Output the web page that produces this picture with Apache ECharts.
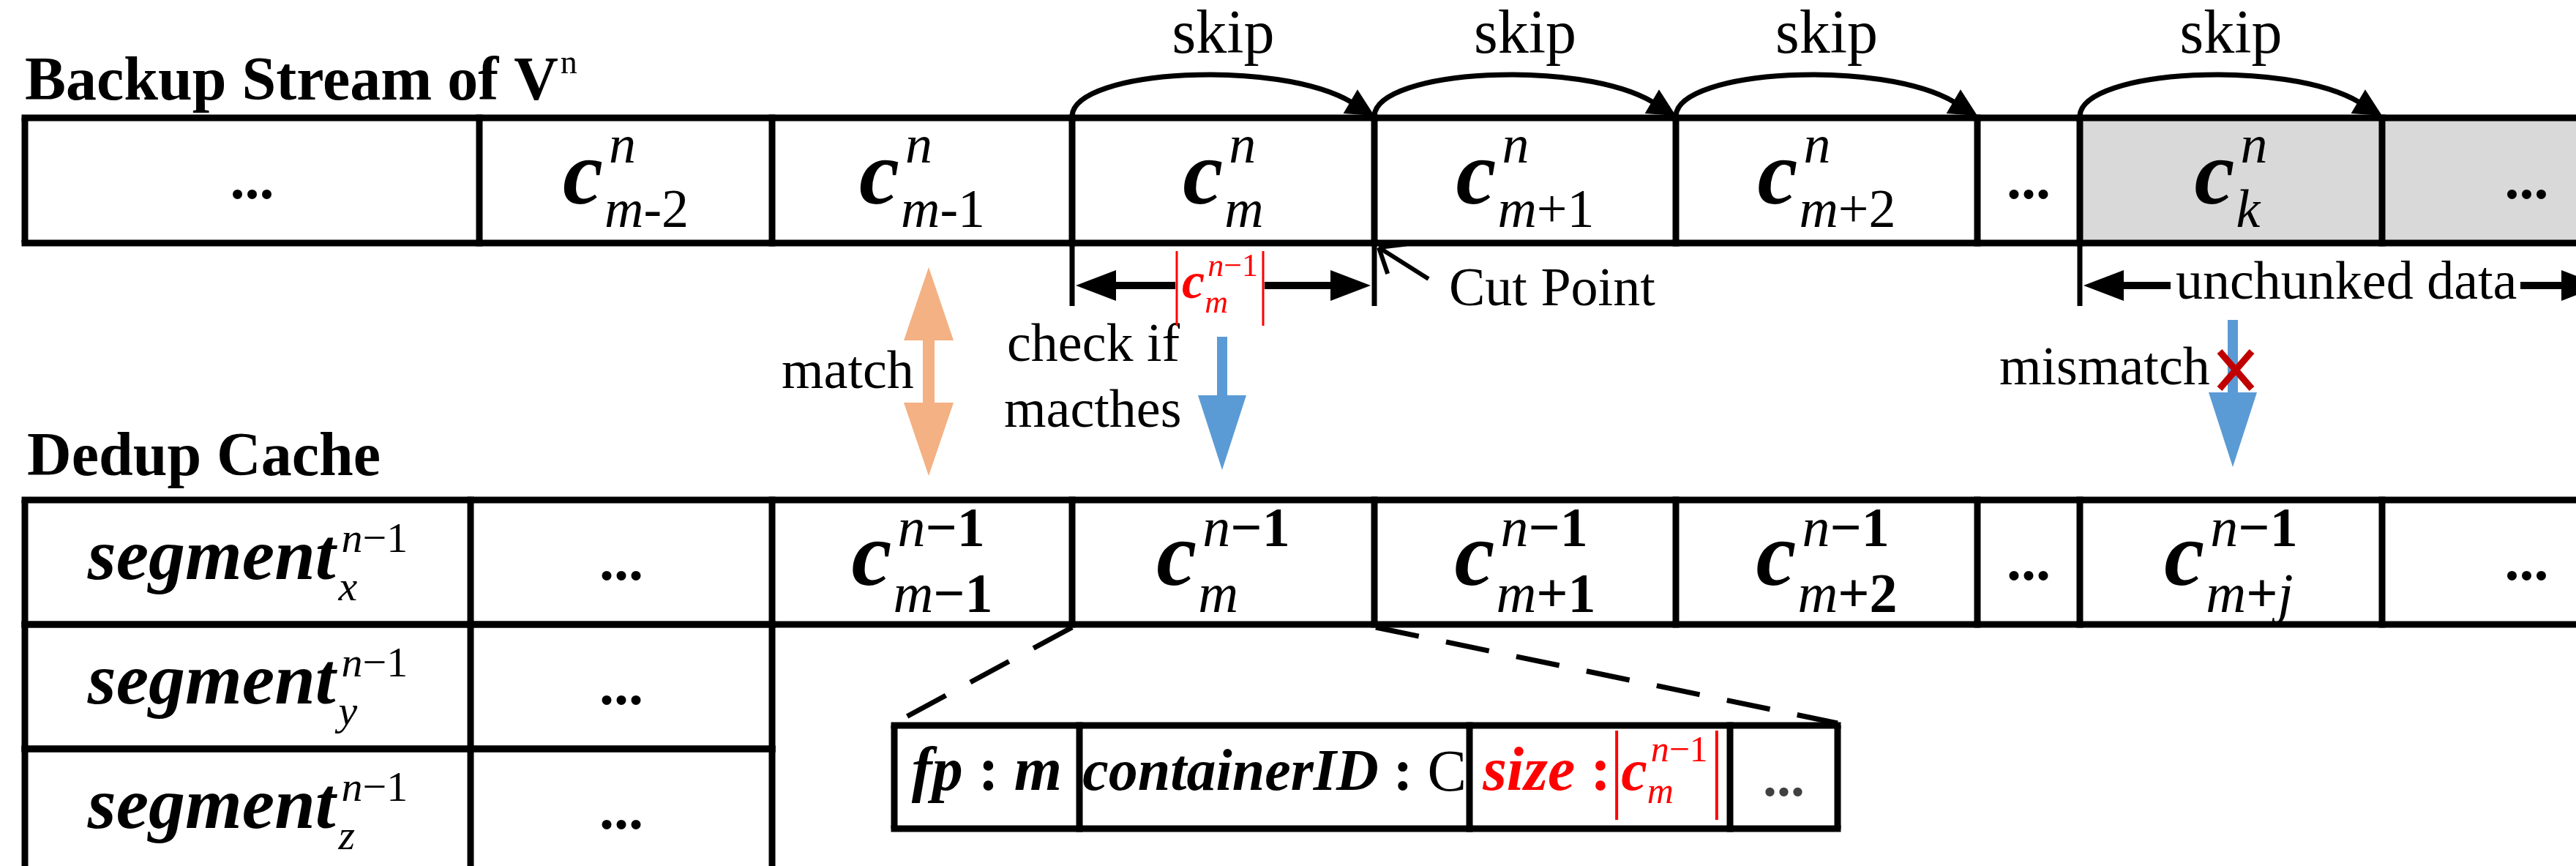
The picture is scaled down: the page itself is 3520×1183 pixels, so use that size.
<!DOCTYPE html>
<html>
<head>
<meta charset="utf-8">
<script src="https://cdn.jsdelivr.net/npm/echarts@6/dist/echarts.min.js"></script>
</head>
<body style="margin: 0">
<div id="container" style="width: 3520px; height: 1183px"></div>
<script type="text/javascript">
var W = 3520, H = 1183;

// ---- labels ----
var streamTitle = 'Backup Stream of V';
var streamTitleSup = 'n';
var cacheTitle = 'Dedup Cache';

var streamBase = ['...', 'c', 'c', 'c', 'c', 'c', '...', 'c', '...'];
var streamSup = ['', 'n', 'n', 'n', 'n', 'n', '', 'n', ''];
var streamSub = ['', 'm-2', 'm-1', 'm', 'm+1', 'm+2', '', 'k', ''];
var streamShaded = [0, 0, 0, 0, 0, 0, 0, 1, 1];

var cacheBase = ['segment', '...', 'c', 'c', 'c', 'c', '...', 'c', '...'];
var cacheSup = ['n−1', '', 'n−1', 'n−1', 'n−1', 'n−1', '', 'n−1', ''];
var cacheSub = ['x', '', 'm−1', 'm', 'm+1', 'm+2', '', 'm+j', ''];
var moreSegments = ['y', 'z'];

var skipLabel = 'skip';
var skipStarts = [3, 4, 5, 7]; // column edge where each skip begins

var entryKeys = ['fp', 'containerID', 'size', null];
var entryVals = ['m', 'C', null, '...'];

var noteTexts = ['Cut Point', 'unchunked data', 'match', 'check if', 'macthes', 'mismatch'];

// ---- layout (units of the hidden axes) ----
var streamEdges = [34, 655, 1055, 1465, 1878, 2290, 2702, 2842, 3255, 3650];
var cacheEdges = [34, 643, 1055, 1465, 1878, 2290, 2702, 2842, 3255, 3650];
var streamRow = [161, 332];
var cacheRows = [683, 853, 1023, 1193];
var entryEdges = [1222, 1475, 2008, 2364, 2511];
var entryRow = [991, 1132];
var noteAnchors = [[1980, 422], [2973, 413], [1068, 535], [1376, 498], [1372, 588], [2732, 530]];
var dimSpans = [[1465, 1878, 1606, 1728], [2842, 3560, 2966, 3444]];
var zoomGuides = [[1465, 857, 1222, 988], [1880, 857, 2511, 988]];
var matchArrow = [1269, 365, 650];
var probeArrows = [[1670, 460, 642], [3051, 437, 638]];

var SERIF = '"Liberation Serif", "Times New Roman", serif';
var BL = 0.33;
var LW = 9;
var RED = '#ff0000';
var SHADE = '#d9d9d9';

var headFont = {size: 84, weight: 'bold'};
var noteFont = {size: 74};
var dotFont = {size: 80, weight: 'bold'};

var chunkStyle = {
	base: {size: 124, style: 'italic', weight: 'bold'},
	sup: {size: 74}, sub: {size: 74},
	supGap: 8, subGap: 2, supRise: 60, subDrop: 28, drop: 40
};
var cachedStyle = {
	base: {size: 124, style: 'italic', weight: 'bold'},
	sup: {size: 76, digitWeight: 'bold'}, sub: {size: 76, digitWeight: 'bold'},
	supGap: 8, subGap: 2, supRise: 57, subDrop: 33, drop: 40
};
var segStyle = {
	base: {size: 100, style: 'italic', weight: 'bold'},
	sup: {size: 58}, sub: {size: 58},
	supGap: 8, subGap: 4, supRise: 40, subDrop: 26, drop: 30
};
var redSmall = {
	base: {size: 70, style: 'italic', weight: 'bold', color: RED},
	sup: {size: 44, color: RED}, sub: {size: 44, color: RED},
	supGap: 4, subGap: 0, supRise: 32, subDrop: 18
};
var redField = {
	base: {size: 80, style: 'italic', weight: 'bold', color: RED},
	sup: {size: 50, color: RED}, sub: {size: 50, color: RED},
	supGap: 5, subGap: 0, supRise: 42, subDrop: 15
};

// ---- helpers ----
var measureCtx = document.createElement('canvas').getContext('2d');
function fontCss(f) {
	return (f.style || 'normal') + ' ' + (f.weight || 'normal') + ' ' + f.size + 'px ' + SERIF;
}
function textWidth(s, f) {
	measureCtx.font = fontCss(f);
	return measureCtx.measureText(s).width;
}
function textEl(api, x, baseline, s, f, align) {
	var p = api.coord([x, baseline]);
	return {
		type: 'text',
		style: {
			x: p[0], y: p[1] - BL * f.size, text: s,
			fontFamily: SERIF, fontSize: f.size,
			fontStyle: f.style || 'normal', fontWeight: f.weight || 'normal',
			fill: f.color || '#000', align: align || 'left', verticalAlign: 'middle'
		}
	};
}
function scriptRun(s, f) {
	var out = [];
	for (var ch of s) {
		var it = /[a-z]/i.test(ch);
		var last = out[out.length - 1];
		if (last && last.it === it) last.s += ch;
		else out.push({s: ch, it: it});
	}
	return out.map(function (t) {
		return {s: t.s, f: {size: f.size, color: f.color, style: t.it ? 'italic' : 'normal',
			weight: t.it ? (f.weight || 'normal') : (f.digitWeight || 'normal')}};
	});
}
function runWidth(run) {
	return run.reduce(function (w, t) { return w + textWidth(t.s, t.f); }, 0);
}
function runEls(api, x, baseline, run) {
	var els = [];
	run.forEach(function (t) {
		els.push(textEl(api, x, baseline, t.s, t.f));
		x += textWidth(t.s, t.f);
	});
	return els;
}
function formulaWidth(base, sup, sub, st) {
	return textWidth(base, st.base) + Math.max(st.supGap + runWidth(scriptRun(sup, st.sup)),
		st.subGap + runWidth(scriptRun(sub, st.sub)));
}
function formulaEls(api, x, baseline, base, sup, sub, st) {
	var bw = textWidth(base, st.base);
	return [textEl(api, x, baseline, base, st.base)]
		.concat(runEls(api, x + bw + st.supGap, baseline - st.supRise, scriptRun(sup, st.sup)))
		.concat(runEls(api, x + bw + st.subGap, baseline + st.subDrop, scriptRun(sub, st.sub)));
}
function line(api, x0, y0, x1, y1, st) {
	var a = api.coord([x0, y0]), b = api.coord([x1, y1]);
	return {type: 'line', shape: {x1: a[0], y1: a[1], x2: b[0], y2: b[1]},
		style: Object.assign({stroke: '#000', lineWidth: LW}, st || {})};
}
function box(api, x0, y0, x1, y1, fill) {
	var a = api.coord([x0, y0]), b = api.coord([x1, y1]);
	return {type: 'rect', shape: {x: a[0], y: a[1], width: b[0] - a[0], height: b[1] - a[1]}, style: {fill: fill}};
}
function poly(api, pts, fill) {
	return {type: 'polygon', shape: {points: pts.map(function (p) { return api.coord(p); })}, style: {fill: fill}};
}
function cellFrame(api, x0, x1, y0, y1, shaded, closeRight) {
	var h = LW / 2, els = [];
	if (shaded) els.push(box(api, x0, y0, x1, y1, SHADE));
	els.push(line(api, x0 - h, y0, x1 + h, y0));
	els.push(line(api, x0 - h, y1, x1 + h, y1));
	els.push(line(api, x0, y0, x0, y1));
	if (closeRight) els.push(line(api, x1, y0, x1, y1));
	return els;
}
function cellLabel(api, x0, x1, yc, base, sup, sub, st) {
	var cx = (x0 + x1) / 2;
	if (base === '...') return [textEl(api, cx, yc + 30, '...', dotFont, 'center')];
	var w = formulaWidth(base, sup, sub, st);
	return formulaEls(api, cx - w / 2, yc + st.drop, base, sup, sub, st);
}

// ---- render functions ----
function renderStream(params, api) {
	var i = params.dataIndex;
	var x0 = api.value(0), x1 = api.value(1), y0 = api.value(2), y1 = api.value(3);
	var els = cellFrame(api, x0, x1, y0, y1, streamShaded[i], false);
	els = els.concat(cellLabel(api, x0, x1, (y0 + y1) / 2, streamBase[i], streamSup[i], streamSub[i], chunkStyle));
	return {type: 'group', children: els};
}
function renderCache(params, api) {
	var i = params.dataIndex;
	var x0 = api.value(0), x1 = api.value(1), y0 = api.value(2), y1 = api.value(3);
	var els = cellFrame(api, x0, x1, y0, y1, false, false);
	els = els.concat(cellLabel(api, x0, x1, (y0 + y1) / 2, cacheBase[i], cacheSup[i], cacheSub[i],
		i === 0 ? segStyle : cachedStyle));
	return {type: 'group', children: els};
}
function renderSegments(params, api) {
	var k = params.dataIndex;
	var x0 = api.value(0), x1 = api.value(1), x2 = api.value(2), y0 = api.value(3), y1 = api.value(4);
	var yc = (y0 + y1) / 2;
	var els = cellFrame(api, x0, x1, y0, y1, false, false)
		.concat(cellFrame(api, x1, x2, y0, y1, false, true))
		.concat(cellLabel(api, x0, x1, yc, 'segment', 'n−1', moreSegments[k], segStyle))
		.concat(cellLabel(api, x1, x2, yc, '...', '', '', segStyle));
	return {type: 'group', children: els};
}
function renderSkip(params, api) {
	var a = api.value(0), b = api.value(1), w = b - a;
	var y0 = streamRow[0] - 3;
	var c1 = [a + 0.01 * w, 95], c2 = [a + 0.68 * w, 80];
	var ang = Math.atan2(y0 - c2[1], b - c2[0]);
	var L = 38, hw = 19;
	var bx = b - L * Math.cos(ang), by = y0 - L * Math.sin(ang);
	var nx = -Math.sin(ang) * hw, ny = Math.cos(ang) * hw;
	var p0 = api.coord([a, y0]), q1 = api.coord(c1), q2 = api.coord(c2), p3 = api.coord([bx + 2 * Math.cos(ang), by + 2 * Math.sin(ang)]);
	return {type: 'group', children: [
		{type: 'bezierCurve', shape: {x1: p0[0], y1: p0[1], cpx1: q1[0], cpy1: q1[1], cpx2: q2[0], cpy2: q2[1], x2: p3[0], y2: p3[1]},
			style: {stroke: '#000', lineWidth: 7, fill: null}},
		poly(api, [[b, y0], [bx + nx, by + ny], [bx - nx, by - ny]], '#000'),
		textEl(api, a + w / 2, 78, skipLabel, {size: 84}, 'center')
	]};
}
function renderEntry(params, api) {
	var i = params.dataIndex;
	var x0 = api.value(0), x1 = api.value(1), y0 = api.value(2), y1 = api.value(3);
	var cx = (x0 + x1) / 2, base = 1085;
	var els = cellFrame(api, x0, x1, y0, y1, false, i === entryKeys.length - 1);
	var key = entryKeys[i], val = entryVals[i];
	if (key && val) {
		var sz = key.length > 4 ? 80 : 84;
		var run = [
			{s: key, f: {size: sz, style: 'italic', weight: 'bold'}},
			{s: ' : ', f: {size: sz, weight: 'bold'}},
			{s: val, f: /^[A-Z]$/.test(val) ? {size: sz} : {size: sz, style: 'italic', weight: 'bold'}}
		];
		els = els.concat(runEls(api, cx - runWidth(run) / 2, base, run));
	} else if (key) {
		var pre = [
			{s: key, f: {size: 84, style: 'italic', weight: 'bold', color: RED}},
			{s: ' :', f: {size: 84, weight: 'bold', color: RED}}
		];
		var pw = runWidth(pre), fw = formulaWidth('c', 'n−1', 'm', redField);
		var total = pw + 8 + 6 + fw + 12;
		var x = cx - total / 2;
		els = els.concat(runEls(api, x, base, pre));
		var bar1 = x + pw + 8, bar2 = bar1 + 6 + fw + 12;
		els.push(line(api, bar1, 998, bar1, 1120, {stroke: RED, lineWidth: 4}));
		els.push(line(api, bar2, 998, bar2, 1120, {stroke: RED, lineWidth: 4}));
		els = els.concat(formulaEls(api, bar1 + 6, base, 'c', 'n−1', 'm', redField));
	} else {
		els.push(textEl(api, cx, (y0 + y1) / 2 + 31, val, {size: 76, weight: 'bold', color: '#404040'}, 'center'));
	}
	return {type: 'group', children: els};
}
function renderNotes(params, api) {
	var els = [];
	// headings
	els.push(textEl(api, 34, 142, streamTitle, headFont));
	els.push(textEl(api, 34 + textWidth(streamTitle, headFont) + 3, 103, streamTitleSup, {size: 46}));
	els.push(textEl(api, 37, 655, cacheTitle, headFont));
	// free text
	noteTexts.forEach(function (t, k) {
		els.push(textEl(api, noteAnchors[k][0], noteAnchors[k][1], t, noteFont));
	});
	// dimension markers
	var dy = 390;
	dimSpans.forEach(function (d) {
		els.push(line(api, d[0], streamRow[1], d[0], 418, {lineWidth: 7}));
		els.push(line(api, d[1], streamRow[1], d[1], 418, {lineWidth: 7}));
		els.push(poly(api, [[d[0] + 5, dy], [d[0] + 60, dy - 21], [d[0] + 60, dy + 21]], '#000'));
		els.push(poly(api, [[d[1] - 5, dy], [d[1] - 60, dy - 21], [d[1] - 60, dy + 21]], '#000'));
		els.push(line(api, d[0] + 58, dy, d[2], dy, {lineWidth: 10}));
		els.push(line(api, d[3], dy, d[1] - 58, dy, {lineWidth: 10}));
	});
	// red chunk size |c|
	var g = dimSpans[0];
	els.push(line(api, g[2] + 2, 343, g[2] + 2, 445, {stroke: RED, lineWidth: 3}));
	els.push(line(api, g[3] - 2, 343, g[3] - 2, 445, {stroke: RED, lineWidth: 3}));
	var fw = formulaWidth('c', 'n−1', 'm', redSmall);
	els = els.concat(formulaEls(api, (g[2] + g[3]) / 2 - fw / 2, 412, 'c', 'n−1', 'm', redSmall));
	// cut point pointer
	var tail = [1952, 381], tip = [1884, 338];
	els.push(line(api, tail[0], tail[1], tip[0], tip[1], {lineWidth: 6}));
	var ang = Math.atan2(tail[1] - tip[1], tail[0] - tip[0]);
	[-0.68, 0.68].forEach(function (da) {
		els.push(line(api, tip[0], tip[1], tip[0] + 38 * Math.cos(ang + da), tip[1] + 38 * Math.sin(ang + da), {lineWidth: 6}));
	});
	// zoom guides
	zoomGuides.forEach(function (z) {
		els.push(line(api, z[0], z[1], z[2], z[3], {lineWidth: 7, lineDash: [60, 38]}));
	});
	// match double arrow
	var mx = matchArrow[0], mt = matchArrow[1], mb = matchArrow[2], hh = 34, hs = 8, hl = 100;
	els.push(poly(api, [[mx, mt], [mx + hh, mt + hl], [mx + hs, mt + hl], [mx + hs, mb - hl], [mx + hh, mb - hl],
		[mx, mb], [mx - hh, mb - hl], [mx - hs, mb - hl], [mx - hs, mt + hl], [mx - hh, mt + hl]], '#f4b183'));
	// probe arrows
	probeArrows.forEach(function (p) {
		var x = p[0], top = p[1], t = p[2], bs = t - 102;
		els.push(poly(api, [[x - 7, top], [x + 7, top], [x + 7, bs], [x + 33, bs], [x, t], [x - 33, bs], [x - 7, bs]], '#5b9bd5'));
	});
	// mismatch cross
	var xc = probeArrows[1][0] + 4;
	els.push(line(api, xc - 22, 480, xc + 22, 531, {stroke: '#c00000', lineWidth: 9}));
	els.push(line(api, xc + 22, 480, xc - 22, 531, {stroke: '#c00000', lineWidth: 9}));
	return {type: 'group', children: els};
}

var dom = document.getElementById('container');
var myChart = echarts.init(dom, null, {renderer: 'canvas'});

var option = {
	animation: false,
	backgroundColor: '#fff',
	grid: {left: 0, right: 0, top: 0, bottom: 0},
	xAxis: {type: 'value', min: 0, max: W, show: false},
	yAxis: {type: 'value', min: 0, max: H, inverse: true, show: false},
	series: [
		{
			type: 'custom', name: 'stream', silent: true, clip: false,
			data: streamBase.map(function (b, i) { return [streamEdges[i], streamEdges[i + 1], streamRow[0], streamRow[1]]; }),
			renderItem: renderStream
		},
		{
			type: 'custom', name: 'cache', silent: true, clip: false,
			data: cacheBase.map(function (b, i) { return [cacheEdges[i], cacheEdges[i + 1], cacheRows[0], cacheRows[1]]; }),
			renderItem: renderCache
		},
		{
			type: 'custom', name: 'segments', silent: true, clip: false,
			data: moreSegments.map(function (s, k) { return [cacheEdges[0], cacheEdges[1], cacheEdges[2], cacheRows[k + 1], cacheRows[k + 2]]; }),
			renderItem: renderSegments
		},
		{
			type: 'custom', name: 'skips', silent: true, clip: false,
			data: skipStarts.map(function (i) { return [streamEdges[i], streamEdges[i + 1]]; }),
			renderItem: renderSkip
		},
		{
			type: 'custom', name: 'entry', silent: true, clip: false,
			data: entryKeys.map(function (k, i) { return [entryEdges[i], entryEdges[i + 1], entryRow[0], entryRow[1]]; }),
			renderItem: renderEntry
		},
		{
			type: 'custom', name: 'notes', silent: true, clip: false,
			data: [[0, 0]],
			renderItem: renderNotes
		}
	]
};

if (option && typeof option === 'object') {
	myChart.setOption(option);
}
</script>
</body>
</html>
